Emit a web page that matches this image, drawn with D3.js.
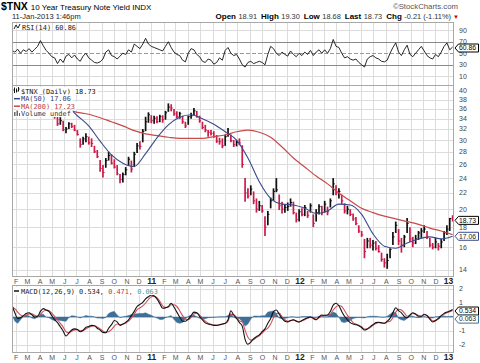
<!DOCTYPE html>
<html>
<head>
<meta charset="utf-8">
<script src="https://cdn.jsdelivr.net/npm/d3@7"></script>
<style>
body { margin: 0; background: #fff; }
svg { display: block; font-family: "Liberation Sans", Arial, sans-serif; }
</style>
</head>
<body>
<svg id="chart" width="480" height="363"></svg>
<script>
// weekly samples, first week ending 22-Jan-2010
const firstWeek = new Date(2010, 0, 22);

const weekHigh = [
	37.0, 36.8, 37.2, 37.5, 37.0, 37.2, 37.4, 37.0, 38.0, 38.6,
	39.6, 39.8, 38.9, 38.2, 36.8, 35.4, 34.4, 34.3, 33.6, 32.4,
	33.3, 33.2, 32.8, 31.8, 30.3, 30.6, 31.2, 30.6, 30.3, 29.0,
	28.3, 26.7, 25.9, 27.0, 28.0, 27.6, 26.8, 25.9, 24.6, 24.8,
	25.6, 27.2, 26.6, 28.0, 29.5, 29.8, 32.0, 34.4, 35.3, 34.7,
	34.6, 34.5, 34.8, 34.7, 35.6, 37.2, 37.0, 36.0, 35.5, 35.4,
	34.6, 33.4, 34.6, 35.2, 36.2, 35.6, 34.6, 33.4, 32.8, 31.8,
	31.8, 31.6, 30.9, 30.4, 30.3, 31.0, 32.2, 31.0, 30.0, 30.0,
	30.3, 29.1, 24.0, 22.6, 23.0, 22.2, 21.3, 21.0, 20.5, 19.2,
	19.8, 21.4, 22.6, 24.0, 21.8, 20.9, 20.6, 20.8, 21.3, 20.9,
	19.6, 20.0, 20.1, 20.5, 19.8, 20.7, 19.4, 20.0, 20.6, 20.4,
	21.0, 20.3, 21.3, 24.0, 23.0, 22.6, 21.8, 20.7, 20.4, 20.0,
	19.5, 19.1, 18.2, 17.6, 16.8, 16.9, 16.9, 16.7, 16.6, 16.2,
	15.5, 15.0, 15.4, 15.9, 17.5, 18.6, 17.8, 16.9, 17.2, 19.0,
	18.0, 17.0, 17.2, 17.6, 17.9, 18.2, 17.6, 16.9, 16.4, 16.9,
	16.4, 16.8, 17.6, 18.2, 19.0, 19.3
];
const weekLow = [
	36.0, 35.8, 36.0, 36.5, 35.9, 36.2, 36.4, 36.2, 36.8, 37.4,
	38.2, 38.5, 37.6, 36.4, 35.0, 34.0, 32.6, 32.8, 31.6, 31.2,
	32.0, 32.2, 31.6, 30.8, 28.7, 29.2, 29.6, 29.2, 28.8, 27.8,
	27.0, 24.9, 24.1, 25.5, 26.6, 26.0, 25.4, 24.4, 23.3, 23.4,
	24.4, 25.8, 24.8, 25.6, 27.8, 28.4, 29.6, 31.6, 33.2, 33.1,
	33.0, 33.1, 33.3, 33.2, 33.8, 35.4, 35.5, 34.6, 34.1, 34.0,
	33.0, 32.2, 32.8, 34.0, 34.7, 34.2, 33.2, 32.0, 31.4, 30.6,
	30.8, 30.4, 29.5, 29.2, 28.6, 29.0, 30.6, 29.6, 28.8, 28.9,
	29.1, 25.5, 20.9, 21.3, 21.7, 20.6, 19.6, 19.8, 19.6, 17.1,
	18.2, 20.1, 21.0, 22.1, 19.9, 19.5, 19.6, 19.8, 20.3, 19.4,
	18.5, 18.6, 19.2, 19.2, 19.0, 19.6, 18.0, 18.6, 19.4, 19.3,
	19.6, 19.3, 20.2, 21.7, 21.7, 21.3, 20.6, 19.5, 19.4, 19.2,
	18.7, 18.2, 17.4, 17.0, 15.0, 15.9, 15.9, 15.7, 15.7, 15.5,
	14.7, 14.2, 14.1, 15.0, 16.2, 17.4, 16.2, 15.5, 16.0, 17.4,
	16.5, 16.0, 16.3, 16.7, 16.9, 17.4, 16.8, 16.0, 15.8, 15.9,
	15.7, 15.9, 16.6, 17.2, 17.6, 18.6
];
const weekClose = [
	36.5, 36.2, 36.9, 36.7, 36.2, 37.0, 36.8, 36.9, 37.8, 38.4,
	39.2, 38.8, 37.8, 36.6, 35.4, 34.5, 33.0, 33.6, 31.9, 32.0,
	33.0, 32.5, 31.8, 31.0, 29.2, 30.2, 30.6, 29.5, 29.4, 28.0,
	27.2, 25.4, 24.8, 26.6, 27.4, 26.2, 25.6, 24.6, 23.8, 24.5,
	25.2, 26.8, 25.3, 27.6, 29.0, 28.9, 31.6, 33.4, 34.8, 33.6,
	34.1, 33.4, 34.4, 33.8, 35.2, 36.4, 36.2, 35.0, 34.4, 35.0,
	33.4, 32.6, 34.4, 34.6, 35.6, 34.4, 33.6, 32.3, 31.8, 31.4,
	31.2, 30.6, 29.8, 29.7, 29.0, 30.6, 31.0, 29.9, 29.2, 29.6,
	29.5, 26.0, 22.0, 21.6, 22.5, 21.0, 20.0, 20.4, 19.8, 18.0,
	19.4, 21.0, 22.2, 22.4, 20.4, 20.0, 20.2, 20.3, 20.8, 19.6,
	18.8, 19.7, 19.4, 20.2, 19.3, 20.4, 18.4, 19.6, 20.3, 19.6,
	20.6, 19.7, 21.0, 23.2, 22.0, 22.2, 21.0, 19.8, 20.0, 19.4,
	18.9, 18.4, 17.6, 17.2, 15.6, 16.6, 16.2, 16.4, 15.9, 15.6,
	14.9, 14.6, 14.8, 15.8, 17.0, 18.2, 16.6, 16.2, 17.0, 18.4,
	16.8, 16.4, 16.8, 17.4, 17.6, 17.8, 17.0, 16.2, 16.0, 16.5,
	16.1, 16.5, 17.4, 17.8, 18.94, 18.73
];

// moving averages, read every 4th week starting at week 15
const maWeeks = d3.range(15, 156, 4);
const ma50 = [
	37.6, 36.8, 34.6, 32.6, 29.8, 27.5, 26.2, 25.7, 27.7, 30.4,
	32.8, 34.3, 34.8, 34.0, 32.9, 31.5, 30.0, 27.0, 23.5, 21.3,
	20.6, 20.5, 20.1, 19.5, 19.8, 20.6, 20.5, 19.4, 17.3, 16.1,
	15.9, 16.4, 16.8, 17.0, 16.8, 17.06
];
const ma200 = [
	36.0, 35.8, 35.3, 34.9, 34.2, 33.4, 32.6, 31.7, 31.1, 30.8,
	30.5, 30.3, 30.3, 30.3, 30.6, 30.9, 31.5, 31.8, 31.4, 30.5,
	28.8, 27.0, 25.6, 24.3, 23.2, 22.0, 21.0, 20.1, 19.6, 19.2,
	18.9, 18.6, 18.3, 17.9, 17.6, 17.23
];

const rsi14 = [
	55, 52, 57, 50, 56, 53, 58, 52, 57, 62,
	72, 63, 55, 50, 44, 42, 32, 40, 34, 45,
	48, 42, 47, 40, 36, 45, 50, 42, 38, 34,
	33, 35, 40, 52, 56, 46, 44, 40, 45, 50,
	48, 56, 52, 66, 62, 58, 66, 76, 66, 62,
	60, 58, 56, 54, 62, 70, 60, 52, 48, 46,
	38, 35, 50, 58, 56, 48, 44, 36, 34, 40,
	38, 31, 34, 42, 38, 55, 60, 50, 46, 48,
	40, 30, 26, 34, 36, 32, 34, 36, 34, 30,
	48, 62, 58, 50, 46, 52, 48, 45, 54, 48,
	44, 50, 46, 52, 48, 55, 46, 52, 56, 50,
	56, 50, 58, 74, 62, 60, 50, 42, 44, 40,
	38, 40, 34, 30, 26, 40, 44, 46, 42, 40,
	36, 35, 38, 50, 60, 68, 52, 46, 56, 64,
	48, 44, 50, 56, 62, 54, 46, 42, 40, 48,
	44, 52, 62, 68, 56, 60.86
];

const macdLine = [
	0.86, 0.3, -0.1, -0.05, 0.1, 0.25, 0.3, 0.15, 0.0, 0.05,
	0.4, 0.6, 0.5, 0.4, 0.1, -0.2, -0.4, -0.7, -1.0, -1.36,
	-1.15, -0.93, -0.85, -0.9, -1.05, -0.95, -0.75, -0.68, -0.6, -0.62,
	-0.8, -0.93, -1.1, -1.12, -0.8, -0.55, -0.25, -0.35, -0.6, -0.5,
	-0.38, -0.2, 0.1, 0.4, 0.75, 0.9, 1.05, 1.3, 1.45, 1.57,
	1.5, 1.3, 0.95, 0.62, 0.65, 0.74, 0.98, 0.7, 0.35, 0.0,
	-0.3, -0.3, -0.15, 0.1, 0.35, 0.3, 0.05, -0.2, -0.42, -0.5,
	-0.55, -0.6, -0.6, -0.55, -0.5, -0.45, -0.2, 0.45, 0.14, -0.1,
	-0.4, -0.65, -1.6, -1.95, -1.8, -1.55, -1.4, -1.28, -1.05, -0.85,
	-0.45, -0.1, 0.38, 0.5, 0.2, -0.1, -0.3, -0.35, -0.25, -0.2,
	-0.3, -0.36, -0.25, -0.15, -0.05, 0.0, -0.1, -0.2, 0.0, 0.14,
	0.12, 0.14, 0.4, 0.85, 0.98, 0.8, 0.4, 0.05, -0.2, -0.4,
	-0.5, -0.55, -0.62, -0.75, -0.93, -0.85, -0.69, -0.55, -0.4, -0.38,
	-0.42, -0.45, -0.3, -0.1, 0.3, 0.66, 0.45, 0.3, 0.05, -0.05,
	0.15, 0.3, 0.2, 0.05, 0.05, 0.2, 0.1, -0.15, -0.36, -0.25,
	-0.1, 0.1, 0.26, 0.35, 0.42, 0.534
];
const macdSignal = [
	0.7, 0.6, 0.35, 0.15, 0.05, 0.12, 0.22, 0.22, 0.12, 0.06,
	0.2, 0.4, 0.5, 0.45, 0.28, 0.05, -0.2, -0.45, -0.72, -1.05,
	-1.12, -1.02, -0.92, -0.9, -0.98, -0.97, -0.85, -0.74, -0.66, -0.63,
	-0.72, -0.85, -1.0, -1.08, -1.05, -0.9, -0.65, -0.5, -0.55, -0.52,
	-0.43, -0.3, -0.08, 0.2, 0.52, 0.65, 0.8, 1.0, 1.25, 1.45,
	1.49, 1.38, 1.12, 0.8, 0.7, 0.72, 0.88, 0.88, 0.75, 0.45,
	0.1, -0.15, -0.2, -0.02, 0.22, 0.28, 0.14, -0.08, -0.3, -0.44,
	-0.52, -0.57, -0.6, -0.57, -0.52, -0.47, -0.3, 0.2, 0.16, -0.02,
	-0.28, -0.35, -0.95, -1.45, -1.65, -1.62, -1.47, -1.34, -1.14, -0.94,
	-0.8, -0.5, -0.05, 0.25, 0.28, 0.02, -0.2, -0.3, -0.27, -0.22,
	-0.27, -0.33, -0.28, -0.19, -0.09, -0.02, -0.07, -0.16, -0.05, 0.08,
	0.11, 0.13, 0.2, 0.5, 0.72, 0.82, 0.75, 0.45, 0.12, -0.15,
	-0.4, -0.5, -0.59, -0.7, -0.86, -0.86, -0.75, -0.6, -0.46, -0.4,
	-0.41, -0.44, -0.35, -0.3, -0.05, 0.35, 0.55, 0.5, 0.3, 0.05,
	0.1, 0.25, 0.22, 0.1, 0.06, 0.16, 0.12, -0.08, -0.28, -0.26,
	-0.14, 0.04, 0.2, 0.31, 0.38, 0.471
];

const rsiTicks = [90, 70, 50, 30, 10];
const priceTicks = [40, 38, 36, 34, 32, 30, 28, 26, 24, 22, 20, 18, 16, 14];
const macdTicks = [2, 1, 0, -1, -2];
const monthLetters = ['J', 'F', 'M', 'A', 'M', 'J', 'J', 'A', 'S', 'O', 'N', 'D'];

const svg = d3.select('#chart');
const L = 12, R = 453;
const rsiBox = [22, 85], mainBox = [85, 276], macdBox = [285, 352];
const weeks = weekClose.map((d, i) => d3.timeDay.offset(firstWeek, 7 * i));
const months = d3.timeMonth.range(new Date(2010, 1, 1), new Date(2013, 0, 12));

let x = d3.scaleTime().domain([new Date(2010, 0, 22), new Date(2013, 0, 12)]).range([L, R]);
let yRsi = d3.scaleLinear().domain([0, 100]).range([82, 24.5]);
let yMain = d3.scaleLog().domain([14, 40]).range([270, 91]);
let yMacd = d3.scaleLinear().domain([-2, 2]).range([345, 289]);

const defs = svg.append('defs');
[['clipRsi', rsiBox], ['clipMain', mainBox], ['clipMacd', macdBox]].forEach(([id, b]) => {
	defs.append('clipPath').attr('id', id).append('rect')
		.attr('x', L).attr('y', b[0]).attr('width', R - L).attr('height', b[1] - b[0]);
});

// panel frame + grid
function panel(box, yScale, ticks) {
	let g = svg.append('g');
	g.append('rect').attr('x', L).attr('y', box[0]).attr('width', R - L).attr('height', box[1] - box[0])
		.attr('fill', '#fff');
	g.selectAll('.vg').data(months).join('line')
		.attr('x1', d => x(d)).attr('x2', d => x(d))
		.attr('y1', box[0]).attr('y2', box[1])
		.attr('stroke', '#dcdcdc').attr('stroke-width', 1).attr('shape-rendering', 'crispEdges');
	g.selectAll('.hg').data(ticks).join('line')
		.attr('x1', L).attr('x2', R)
		.attr('y1', d => Math.round(yScale(d)) + 0.5).attr('y2', d => Math.round(yScale(d)) + 0.5)
		.attr('stroke', '#dcdcdc');
	return g;
}

function frame(box) {
	svg.append('rect').attr('x', L + 0.5).attr('y', box[0] + 0.5)
		.attr('width', R - L).attr('height', box[1] - box[0])
		.attr('fill', 'none').attr('stroke', '#a8a8a8');
}

function axisLabels(ticks, yScale) {
	svg.append('g').selectAll('text').data(ticks).join('text')
		.attr('x', 459).attr('y', d => yScale(d)).attr('dy', '0.35em')
		.attr('font-size', 7).attr('fill', '#444')
		.text(d => d);
}

function monthAxis(yText) {
	svg.append('g').selectAll('text').data(months).join('text')
		.attr('x', d => x(d)).attr('y', yText)
		.attr('text-anchor', 'middle')
		.attr('font-size', d => d.getMonth() === 0 ? 8.5 : 7)
		.attr('font-weight', d => d.getMonth() === 0 ? 'bold' : 'normal')
		.attr('fill', d => d.getMonth() === 0 ? '#222' : '#555')
		.text(d => d.getMonth() === 0 ? d3.timeFormat('%y')(d) : monthLetters[d.getMonth()]);
}

function valueTag(yv, label, color) {
	let g = svg.append('g');
	g.append('path')
		.attr('d', `M455,${yv} L458.5,${yv - 4} H478.5 V${yv + 4} H458.5 Z`)
		.attr('fill', '#fff').attr('stroke', color).attr('stroke-width', 1);
	g.append('text').attr('x', 459).attr('y', yv).attr('dy', '0.33em')
		.attr('font-size', 6.8).attr('fill', color === '#000' ? '#000' : '#222').text(label);
}

// ---------- header ----------
let head = svg.append('text').attr('x', 1).attr('y', 10);
head.append('tspan').attr('font-size', 10.5).attr('font-weight', 'bold').text('$TNX');
head.append('tspan').attr('font-size', 8).attr('dx', 3).text('10 Year Treasury Note Yield INDX');
svg.append('text').attr('x', 12).attr('y', 18.5).attr('font-size', 7.5).attr('fill', '#222')
	.text('11-Jan-2013 1:46pm');
svg.append('text').attr('x', 458).attr('y', 9).attr('text-anchor', 'end')
	.attr('font-size', 7.8).attr('fill', '#555').text('\u00a9StockCharts.com');
let quote = svg.append('text').attr('x', 451).attr('y', 18.5).attr('text-anchor', 'end').attr('font-size', 7.4);
[['Open', '18.91'], ['High', '19.30'], ['Low', '18.68'], ['Last', '18.73'], ['Chg', '-0.21 (-1.11%)']]
	.forEach(([k, v], i) => {
		quote.append('tspan').attr('font-weight', 'bold').attr('font-size', 8).attr('dx', i ? 4 : 0).text(k);
		quote.append('tspan').attr('dx', 2.5).attr('fill', '#333').text(v);
	});
svg.append('text').attr('x', 456).attr('y', 18.5).attr('text-anchor', 'middle')
	.attr('font-size', 6).attr('fill', '#c00').text('\u25bc');

// ---------- RSI panel ----------
panel(rsiBox, yRsi, [90, 10]);
svg.append('g').selectAll('line').data([70, 30]).join('line')
	.attr('x1', L).attr('x2', R)
	.attr('y1', d => Math.round(yRsi(d)) + 0.5).attr('y2', d => Math.round(yRsi(d)) + 0.5)
	.attr('stroke', '#8a8a8a');
svg.append('line').attr('x1', L).attr('x2', R)
	.attr('y1', Math.round(yRsi(50)) + 0.5).attr('y2', Math.round(yRsi(50)) + 0.5)
	.attr('stroke', '#9a9a9a').attr('stroke-dasharray', '4,2');
svg.append('path').datum(rsi14)
	.attr('clip-path', 'url(#clipRsi)')
	.attr('fill', 'none').attr('stroke', '#111').attr('stroke-width', 0.9)
	.attr('d', d3.line().x((d, i) => x(weeks[i])).y(d => yRsi(d)));
let rsiLegend = svg.append('g').attr('font-family', '"DejaVu Sans Mono", monospace').attr('font-size', 6.9);
rsiLegend.append('path').attr('d', 'M14,29 L16,25 L18,28 L20,24').attr('fill', 'none').attr('stroke', '#222').attr('stroke-width', 1);
rsiLegend.append('text').attr('x', 22).attr('y', 29.5).attr('fill', '#222').text('RSI(14) 60.86');
frame(rsiBox);
axisLabels(rsiTicks, yRsi);
valueTag(48, '60.86', '#000');

// ---------- price panel ----------
panel(mainBox, yMain, priceTicks);
let gPrice = svg.append('g').attr('clip-path', 'url(#clipMain)');
let upDown = (i) => (i > 0 && weekClose[i] < weekClose[i - 1]) ? '#cc1a4a' : '#111';
gPrice.selectAll('line.hl').data(weekClose).join('line')
	.attr('x1', (d, i) => x(weeks[i])).attr('x2', (d, i) => x(weeks[i]))
	.attr('y1', (d, i) => yMain(weekHigh[i])).attr('y2', (d, i) => yMain(weekLow[i]))
	.attr('stroke', (d, i) => upDown(i)).attr('stroke-width', 1.7);
gPrice.selectAll('line.cl').data(weekClose).join('line')
	.attr('x1', (d, i) => x(weeks[i])).attr('x2', (d, i) => x(weeks[i]) + 1.6)
	.attr('y1', d => yMain(d)).attr('y2', d => yMain(d))
	.attr('stroke', (d, i) => upDown(i)).attr('stroke-width', 1);

let maLine = d3.line().curve(d3.curveMonotoneX).x((d, i) => x(weeks[maWeeks[i]])).y(d => yMain(d));
gPrice.append('path').datum(ma200).attr('fill', 'none').attr('stroke', '#c84a4a').attr('stroke-width', 1.2).attr('d', maLine);
gPrice.append('path').datum(ma50).attr('fill', 'none').attr('stroke', '#3b4a8c').attr('stroke-width', 1.1).attr('d', maLine);

// legend rows with white backing
let legend = svg.append('g').attr('font-family', '"DejaVu Sans Mono", monospace').attr('font-size', 6.9);
let rows = [
	{ t: '$TNX (Daily) 18.73', c: '#111', y: 93.5 },
	{ t: 'MA(50) 17.06', c: '#2d3a7a', y: 101 },
	{ t: 'MA(200) 17.23', c: '#b83a3a', y: 108.5 },
	{ t: 'Volume undef', c: '#333', y: 116 },
];
rows.forEach((r) => {
	let bg = legend.append('rect').attr('fill', '#fff');
	let tx = legend.append('text').attr('x', 21).attr('y', r.y).attr('fill', r.c).text(r.t);
	let w = tx.node().getComputedTextLength();
	bg.attr('x', L + 1).attr('y', r.y - 6.5).attr('width', w + 10).attr('height', 7.5);
});
// legend glyphs
legend.append('path').attr('d', 'M14.5,87.5 V93 M16.5,88.5 V92.5 M18.5,87 V91.5 M13.5,90 h1 M16.5,91 h1 M18.5,89 h1')
	.attr('stroke', '#111').attr('stroke-width', 1).attr('fill', 'none');
legend.append('line').attr('x1', 14).attr('x2', 20).attr('y1', 98.7).attr('y2', 98.7).attr('stroke', '#3b4a8c').attr('stroke-width', 1.5);
legend.append('line').attr('x1', 14).attr('x2', 20).attr('y1', 106.2).attr('y2', 106.2).attr('stroke', '#c84a4a').attr('stroke-width', 1.5);
legend.append('path').attr('d', 'M14,116 V112 H15.5 V116 M16.5,116 V110.5 H18 V116 M19,116 V113 H20 V116 Z')
	.attr('fill', '#666');
frame(mainBox);
axisLabels(priceTicks, yMain);
valueTag(yMain(18.73), '18.73', '#000');
valueTag(yMain(17.06), '17.06', '#3b4a8c');
monthAxis(283.5);

// ---------- MACD panel ----------
panel(macdBox, yMacd, macdTicks);
let gMacd = svg.append('g').attr('clip-path', 'url(#clipMacd)');
gMacd.append('path').datum(macdLine)
	.attr('fill', '#3d6f98').attr('stroke', '#3d6f98').attr('stroke-width', 0.5)
	.attr('d', d3.area().x((d, i) => x(weeks[i])).y0(yMacd(0)).y1((d, i) => yMacd(d - macdSignal[i])));
gMacd.append('path').datum(macdSignal)
	.attr('fill', 'none').attr('stroke', '#d0505a').attr('stroke-width', 1.1)
	.attr('d', d3.line().curve(d3.curveMonotoneX).x((d, i) => x(weeks[i])).y(d => yMacd(d)));
gMacd.append('path').datum(macdLine)
	.attr('fill', 'none').attr('stroke', '#111').attr('stroke-width', 1.1)
	.attr('d', d3.line().curve(d3.curveMonotoneX).x((d, i) => x(weeks[i])).y(d => yMacd(d)));

let macdLegend = svg.append('g').attr('font-family', '"DejaVu Sans Mono", monospace').attr('font-size', 6.9);
macdLegend.append('rect').attr('x', L + 1).attr('y', 287).attr('width', 148).attr('height', 8).attr('fill', '#fff');
macdLegend.append('line').attr('x1', 14).attr('x2', 19).attr('y1', 291).attr('y2', 291).attr('stroke', '#111').attr('stroke-width', 1.5);
let mt = macdLegend.append('text').attr('x', 21).attr('y', 293.5);
mt.append('tspan').attr('fill', '#222').text('MACD(12,26,9) 0.534, ');
mt.append('tspan').attr('fill', '#c03040').text('0.471, ');
mt.append('tspan').attr('fill', '#3a9a9a').text('0.063');
frame(macdBox);
axisLabels(macdTicks.filter(d => d !== 0), yMacd);
valueTag(yMacd(0.534) + 1.5, '0.534', '#000');
valueTag(yMacd(0.063) + 3, '0.063', '#3d6f98');
monthAxis(359.5);
</script>
</body>
</html>
